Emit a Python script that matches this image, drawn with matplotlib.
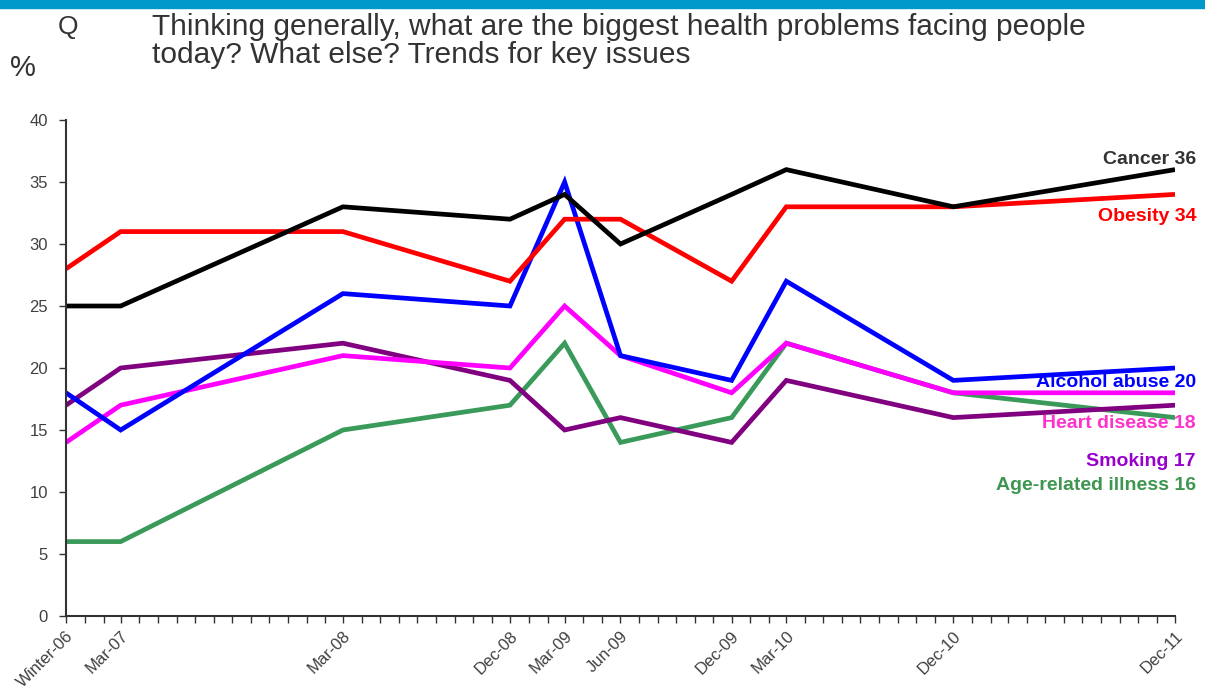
import matplotlib
matplotlib.use("Agg")
import matplotlib.pyplot as plt
import matplotlib.dates as mdates
import matplotlib.transforms as mtransforms
import datetime as dt

plt.rcParams['font.family'] = ['Liberation Sans', 'DejaVu Sans']

tick_labels = ["Winter-06", "Mar-07", "Mar-08", "Dec-08", "Mar-09", "Jun-09",
               "Dec-09", "Mar-10", "Dec-10", "Dec-11"]
dates = [dt.date(2006, 12, 1), dt.date(2007, 3, 1), dt.date(2008, 3, 1), dt.date(2008, 12, 1),
         dt.date(2009, 3, 1), dt.date(2009, 6, 1), dt.date(2009, 12, 1), dt.date(2010, 3, 1),
         dt.date(2010, 12, 1), dt.date(2011, 12, 1)]

cancer = [25, 25, 33, 32, 34, 30, 34, 36, 33, 36]
obesity = [28, 31, 31, 27, 32, 32, 27, 33, 33, 34]
alcohol = [18, 15, 26, 25, 35, 21, 19, 27, 19, 20]
heart = [14, 17, 21, 20, 25, 21, 18, 22, 18, 18]
smoking = [17, 20, 22, 19, 15, 16, 14, 19, 16, 17]
age = [6, 6, 15, 17, 22, 14, 16, 22, 18, 16]

series_names = ["Cancer 36", "Obesity 34", "Alcohol abuse 20", "Heart disease 18",
                "Smoking 17", "Age-related illness 16"]
series_values = [cancer, obesity, alcohol, heart, smoking, age]
line_colors = ["#000000", "#FF0000", "#0000FF", "#FF00FF", "#800080", "#3A9A5A"]
label_colors = ["#333333", "#FF0000", "#0000FF", "#FF33CC", "#9900CC", "#3E9650"]
label_y = [36.85, 32.2, 18.8, 15.5, 12.5, 10.5]

fig = plt.figure(figsize=(12.05, 6.92), dpi=100)
ax = fig.add_axes([66/1205, 1-616/692, (1175-66)/1205, (616-120)/692])

# top bar
fig.patches.append(plt.Rectangle((0, 1-8/692), 1, 8/692, transform=fig.transFigure,
                                 color="#0099CC", zorder=0))

for i in range(len(series_values) - 1, -1, -1):
    ax.plot(dates, series_values[i], color=line_colors[i], lw=3.4, solid_joinstyle='miter',
            solid_capstyle='butt', zorder=2)

trans = mtransforms.blended_transform_factory(fig.transFigure, ax.transData)
for name, lcol, ly in zip(series_names, label_colors, label_y):
    ax.text(1196/1205, ly, name, transform=trans, ha='right', va='center',
            color=lcol, fontsize=14, fontweight='bold', clip_on=False)

ax.set_xlim(dates[0], dates[-1])
ax.set_ylim(0, 40)
ax.set_yticks(range(0, 41, 5))
ax.set_xticks(dates)
ax.set_xticklabels(tick_labels, rotation=45, ha='right', rotation_mode='anchor')
ax.xaxis.set_minor_locator(mdates.MonthLocator())

for s in ['top', 'right']:
    ax.spines[s].set_visible(False)
for s in ['left', 'bottom']:
    ax.spines[s].set_color('#333333')
    ax.spines[s].set_linewidth(1.5)

ax.tick_params(axis='both', which='major', direction='out', length=5, width=1, color='#333333',
               labelcolor='#404040', labelsize=12)
ax.tick_params(axis='y', which='major', pad=8)
ax.tick_params(axis='x', which='minor', direction='out', length=5, width=1, color='#333333')
ax.tick_params(axis='x', which='major', pad=4)

fig.text(58/1205, 1-27/692, "Q", fontsize=19, color='#333333', va='center', ha='left')
fig.text(152/1205, 1-41/692, "Thinking generally, what are the biggest health problems facing people\ntoday? What else? Trends for key issues",
         fontsize=21.5, color='#333333', va='center', ha='left', linespacing=1.0)
fig.text(10/1205, 1-68/692, "%", fontsize=21, color='#333333', va='center', ha='left')

fig.savefig("out.png", dpi=100)
